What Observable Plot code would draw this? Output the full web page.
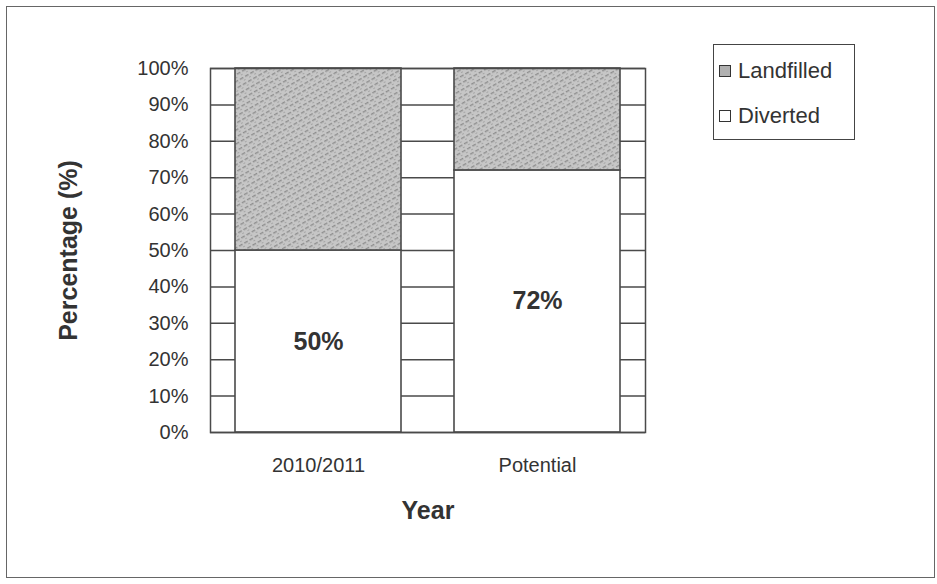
<!DOCTYPE html>
<html>
<head>
<meta charset="utf-8">
<script src="https://cdn.jsdelivr.net/npm/d3@7"></script>
<script src="https://cdn.jsdelivr.net/npm/@observablehq/plot@0.6"></script>
<style>
  body { margin: 0; background: #fff; font-family: "Liberation Sans", Arial, sans-serif; }
  #wrap { position: relative; width: 937px; height: 584px; }
  #border { position: absolute; left: 6px; top: 6px; width: 929px; height: 572px; border: 1.5px solid #666; box-sizing: border-box; pointer-events: none; }
  #legend { position: absolute; left: 713px; top: 44px; width: 142px; height: 96px; border: 1.5px solid #444; box-sizing: border-box; background: #fff; font-size: 22px; color: #333; }
  .item { position: absolute; left: 5px; display: flex; align-items: center; }
  .sw { width: 10px; height: 10px; border: 1.2px solid #333; margin-right: 7px; }
</style>
</head>
<body>
<div id="wrap">
  <div id="chart"></div>
  <div id="border"></div>
  <div id="legend"></div>
</div>
<script>
const categories = ["2010/2011", "Potential"];
const seriesNames = ["Diverted", "Landfilled"];
const diverted = [50, 72];
const landfilled = [50, 28];
const yTicks = [0, 10, 20, 30, 40, 50, 60, 70, 80, 90, 100];
const legendItems = ["Landfilled", "Diverted"];
const seriesColors = {Landfilled: "url(#stipple)", Diverted: "#ffffff"};
const swatchColors = {Landfilled: "#b0b0b0", Diverted: "#ffffff"};

const rows = [];
categories.forEach((c, i) => rows.push({year: c, series: "Diverted", value: diverted[i]}));
categories.forEach((c, i) => rows.push({year: c, series: "Landfilled", value: landfilled[i]}));
const labels = categories.map((c, i) => ({year: c, mid: diverted[i] / 2, text: diverted[i] + "%"}));

const ink = "#4a4a4a";
const chart = Plot.plot({
  width: 937,
  height: 584,
  marginLeft: 210,
  marginRight: 292,
  marginTop: 68,
  marginBottom: 152,
  style: {fontFamily: "'Liberation Sans', Arial, sans-serif", color: "#333", background: "transparent"},
  x: {domain: categories, paddingInner: 0.24, paddingOuter: 0.11, label: null},
  y: {domain: [0, 100], label: null},
  color: {domain: seriesNames, range: seriesNames.map(s => seriesColors[s])},
  marks: [
    Plot.ruleY(yTicks, {stroke: ink, strokeWidth: 1.5}),
    Plot.barY(rows, Plot.stackY({x: "year", y: "value", fill: "series", stroke: ink, strokeWidth: 1.6, order: seriesNames})),
    Plot.frame({stroke: ink, strokeWidth: 1.5}),
    Plot.text(labels, {x: "year", y: "mid", text: "text", fontSize: 25, fontWeight: "bold", fill: "#333"}),
    Plot.axisY({ticks: yTicks, tickSize: 0, tickPadding: 22, tickFormat: d => d + "%", fontSize: 20, label: null}),
    Plot.axisX({tickSize: 0, tickPadding: 25, fontSize: 20, label: null}),
    Plot.text(["Percentage (%)"], {frameAnchor: "left", dx: -142, rotate: -90, textAnchor: "middle", fontSize: 25, fontWeight: "bold", fill: "#333"}),
    Plot.text(["Year"], {frameAnchor: "bottom", dy: 86, textAnchor: "middle", fontSize: 25, fontWeight: "bold", fill: "#333"})
  ]
});

// stippled grey texture for the Landfilled fill
const ns = "http://www.w3.org/2000/svg";
const defs = document.createElementNS(ns, "defs");
const pat = document.createElementNS(ns, "pattern");
pat.setAttribute("id", "stipple");
pat.setAttribute("patternUnits", "userSpaceOnUse");
pat.setAttribute("width", "6");
pat.setAttribute("height", "6");
pat.setAttribute("patternTransform", "rotate(-30)");
const bg = document.createElementNS(ns, "rect");
bg.setAttribute("width", "6"); bg.setAttribute("height", "6"); bg.setAttribute("fill", "#c6c6c6");
pat.appendChild(bg);
const ln = document.createElementNS(ns, "rect");
ln.setAttribute("x", "0"); ln.setAttribute("y", "2"); ln.setAttribute("width", "4"); ln.setAttribute("height", "1.4"); ln.setAttribute("fill", "#8f8f8f");
pat.appendChild(ln);
const dot = document.createElementNS(ns, "rect");
dot.setAttribute("x", "3"); dot.setAttribute("y", "5"); dot.setAttribute("width", "2"); dot.setAttribute("height", "1"); dot.setAttribute("fill", "#a5a5a5");
pat.appendChild(dot);
defs.appendChild(pat);
chart.insertBefore(defs, chart.firstChild);

document.getElementById("chart").appendChild(chart);

const legend = document.getElementById("legend");
legendItems.forEach((name, i) => {
  const it = document.createElement("div");
  it.className = "item";
  it.style.top = (i === 0 ? 13 : 58) + "px";
  const sw = document.createElement("span");
  sw.className = "sw";
  sw.style.background = swatchColors[name];
  const tx = document.createElement("span");
  tx.textContent = name;
  it.appendChild(sw); it.appendChild(tx);
  legend.appendChild(it);
});
</script>
</body>
</html>
